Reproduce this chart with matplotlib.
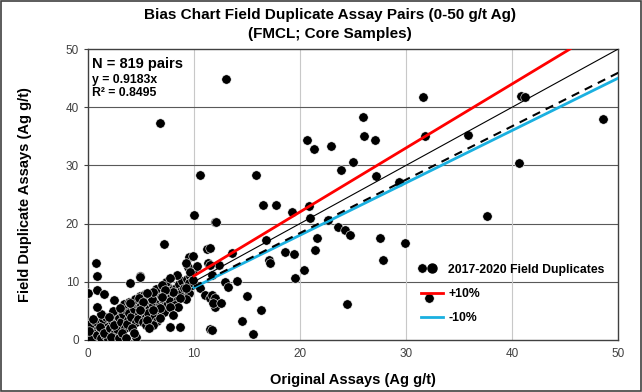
import numpy as np
import matplotlib
matplotlib.use("Agg")
import matplotlib.pyplot as plt
from matplotlib.lines import Line2D
from matplotlib.patches import Rectangle

plt.rcParams["font.family"] = ["Liberation Sans", "DejaVu Sans"]

cluster_x = [0.2, 0.3, 0.5, 0.4, 0.6, 0.8, 0.9, 0.2, 0.7, 1.0, 0.3, 0.5, 0.1, 0.9,
             1.2, 1.3, 1.5, 1.6, 1.8, 1.4, 1.9, 1.1, 1.7, 1.2, 1.9, 1.5,
             2.1, 2.3, 2.5, 2.6, 2.8, 2.2, 2.9, 2.4, 2.7, 2.0, 2.9, 2.5,
             3.1, 3.3, 3.5, 3.6, 3.8, 3.2, 3.9, 3.4, 3.7, 3.0, 3.6, 3.9,
             4.1, 4.3, 4.5, 4.6, 4.8, 4.2, 4.9, 4.4, 4.7, 4.0, 4.5, 4.9, 4.3,
             5.1, 5.3, 5.5, 5.6, 5.8, 5.2, 5.9, 5.4, 5.7, 5.0, 5.5,
             6.1, 6.3, 6.5, 6.6, 6.8, 6.2, 6.9, 6.4, 6.7, 6.0, 6.5,
             7.1, 7.3, 7.5, 7.6, 7.8, 7.2, 7.9, 7.4, 7.7, 7.0,
             8.1, 8.3, 8.5, 8.6, 8.8, 8.2, 8.9, 8.4, 8.7,
             9.1, 9.3, 9.5, 9.6, 9.8, 9.2, 9.9, 9.4, 9.7]
cluster_y = [0.3, 1.0, 0.5, 2.0, 1.5, 0.2, 2.6, 2.8, 3.2, 1.0, 0.1, 3.6, 1.6, 0.8,
             0.4, 1.8, 2.5, 0.9, 3.0, 3.6, 1.5, 2.2, 4.0, 4.5, 0.2, 1.2,
             2.0, 3.2, 1.0, 4.2, 2.8, 0.5, 3.8, 5.0, 1.8, 3.9, 0.3, 2.6,
             3.0, 4.4, 2.0, 5.2, 3.5, 1.2, 4.6, 6.1, 2.7, 5.5, 0.4, 6.5,
             4.0, 5.3, 3.0, 6.2, 4.5, 2.0, 5.8, 7.0, 3.6, 6.4, 0.5, 7.6, 1.2,
             5.0, 6.4, 4.0, 7.0, 5.5, 3.0, 6.6, 7.8, 4.6, 6.0, 2.5,
             6.0, 7.3, 5.0, 8.0, 6.5, 4.0, 7.6, 8.8, 5.6, 7.0, 3.2,
             7.0, 8.2, 6.0, 9.0, 7.4, 4.8, 8.5, 10.0, 6.6, 9.4,
             8.0, 9.0, 7.0, 9.6, 8.4, 6.0, 10.2, 11.2, 7.8,
             9.0, 10.5, 8.0, 11.0, 9.5, 7.0, 12.0, 12.5, 10.0]

# individually read points
other_x = [0.75, 0.85, 4.9, 4.0, 0.0, 0.9, 1.5, 2.5, 0.85, 5.3, 4.8,
           9.5, 9.9, 9.2, 10.3, 11.3, 9.6, 7.7, 9.5, 9.9, 4.9, 9.2, 10.6, 11.0,
           11.5, 12.0, 8.7, 8.0, 7.3, 7.0, 6.1, 5.6, 8.5, 7.7, 6.8, 6.1, 5.2,
           8.0, 6.8, 6.1, 5.6, 7.7, 8.7, 11.5, 5.8, 4.9,
           6.8, 13.0, 10.6, 10.0, 12.0, 7.2,
           31.6, 40.8, 41.2, 48.6, 25.9, 20.7, 21.3, 22.9, 26.0, 27.1, 31.8,
           35.8, 40.6, 25.0, 23.9, 15.8, 27.2, 29.3, 16.5, 17.7, 19.2, 20.8,
           20.9, 22.6, 37.6, 12.1, 23.6, 24.2, 24.7, 27.5, 29.9, 16.8, 21.6,
           21.4, 18.6, 19.4, 13.6, 11.2, 27.8, 17.1, 17.2,
           11.5, 12.4, 11.5, 11.7, 12.9, 13.2, 14.1, 19.5, 20.4, 15.0, 16.3,
           14.5, 15.6, 11.7, 11.7, 12.0, 11.8, 12.5, 24.4, 32.2, 31.5]
other_y = [13.2, 11.0, 11.0, 9.8, 8.1, 8.6, 7.9, 6.9, 5.7, 7.7, 7.2,
           14.3, 14.4, 13.2, 12.7, 13.2, 11.7, 10.6, 9.8, 10.3, 10.8, 8.9, 8.9, 7.7,
           7.2, 5.7, 7.2, 8.2, 8.6, 7.4, 8.2, 8.1, 5.7, 5.7, 5.5, 5.2, 6.5,
           4.3, 3.8, 2.6, 3.4, 2.2, 2.2, 1.9, 2.1, 5.2,
           37.3, 44.8, 28.4, 21.5, 20.3, 16.5,
           41.8, 41.9, 41.8, 38.0, 38.3, 34.4, 32.8, 33.3, 35.1, 34.4, 35.1,
           35.2, 30.4, 30.6, 29.2, 28.4, 28.2, 27.1, 23.2, 23.2, 22.0, 23.0,
           21.0, 20.6, 21.3, 20.3, 19.4, 18.8, 18.0, 17.5, 16.7, 17.2, 17.5,
           15.5, 15.1, 14.8, 14.9, 15.6, 13.7, 13.7, 13.2,
           15.8, 12.9, 12.9, 11.2, 10.0, 9.1, 10.1, 10.7, 12.0, 7.6, 5.2,
           3.3, 1.0, 1.7, 7.7, 7.2, 6.4, 6.4, 6.2, 7.2, 12.4]

x_pts = np.array(cluster_x + other_x)
y_pts = np.array(cluster_y + other_y)

slope = 0.9183
r2 = 0.8495
n_pairs = 819
line_start = 10

fig = plt.figure(figsize=(6.42, 3.92), dpi=100)
ax = fig.add_axes([0.137, 0.133, 0.826, 0.742])

ax.set_xlim(0, 50)
ax.set_ylim(0, 50)
ax.set_xticks(range(0, 51, 10))
ax.set_yticks(range(0, 51, 10))

# grid: dark horizontals, light verticals
for v in range(10, 50, 10):
    ax.axhline(v, color="#595959", lw=0.8, zorder=1)
    ax.axvline(v, color="#c8c8c8", lw=0.8, zorder=1)

ax.scatter(x_pts, y_pts, s=46, c="black", edgecolors="white", linewidths=0.4, zorder=3)

xs = np.array([line_start, 50])
ax.plot([line_start, 50 / 1.1], [line_start * 1.1, 50], color="#ff0000", lw=2, zorder=4)
ax.plot(xs, xs, color="black", lw=0.8, zorder=4)
ax.plot(xs, xs * 0.9, color="#1ab0e0", lw=2, zorder=4)
ax.plot(xs, xs * slope, color="black", lw=1.5, ls=(0, (4, 3)), zorder=5)

for s in ax.spines.values():
    s.set_color("#404040")
    s.set_linewidth(1)
ax.tick_params(axis="both", labelsize=8.5, colors="#404040", length=3)
ax.tick_params(axis="x", length=0, pad=6)

ax.set_xlabel("Original Assays (Ag g/t)", fontsize=10.5, fontweight="bold", labelpad=9)
ax.set_ylabel("Field Duplicate Assays (Ag g/t)", fontsize=10.5, fontweight="bold", labelpad=24)

fig.text(0.514, 0.963, "Bias Chart Field Duplicate Assay Pairs (0-50 g/t Ag)",
         ha="center", va="center", fontsize=11, fontweight="bold")
fig.text(0.514, 0.913, "(FMCL; Core Samples)", ha="center", va="center",
         fontsize=11, fontweight="bold")

ax.text(0.008, 0.95, f"N = {n_pairs} pairs", transform=ax.transAxes, fontsize=10.5,
        fontweight="bold", va="center")
ax.text(0.008, 0.893, f"y = {slope}x", transform=ax.transAxes, fontsize=8.8,
        fontweight="bold", va="center")
ax.text(0.008, 0.848, f"R\u00b2 = {r2}", transform=ax.transAxes, fontsize=8.8,
        fontweight="bold", va="center")

handles = [
    Line2D([], [], ls="none", marker="o", color="black", markersize=6.5),
    Line2D([], [], color="#ff0000", lw=2),
    Line2D([], [], color="#1ab0e0", lw=2),
]
ax.legend(handles, ["2017-2020 Field Duplicates", "+10%", "-10%"],
          loc="lower right", bbox_to_anchor=(0.99, 0.025), frameon=False,
          prop={"size": 8.8, "weight": "bold"}, handlelength=1.8, handletextpad=0.4,
          labelspacing=1.0, borderaxespad=0.3)

fig.add_artist(Rectangle((0.002, 0.002), 0.996, 0.996, transform=fig.transFigure,
                         fill=False, edgecolor="#404040", lw=1.2))

fig.savefig("out.png", dpi=100)
